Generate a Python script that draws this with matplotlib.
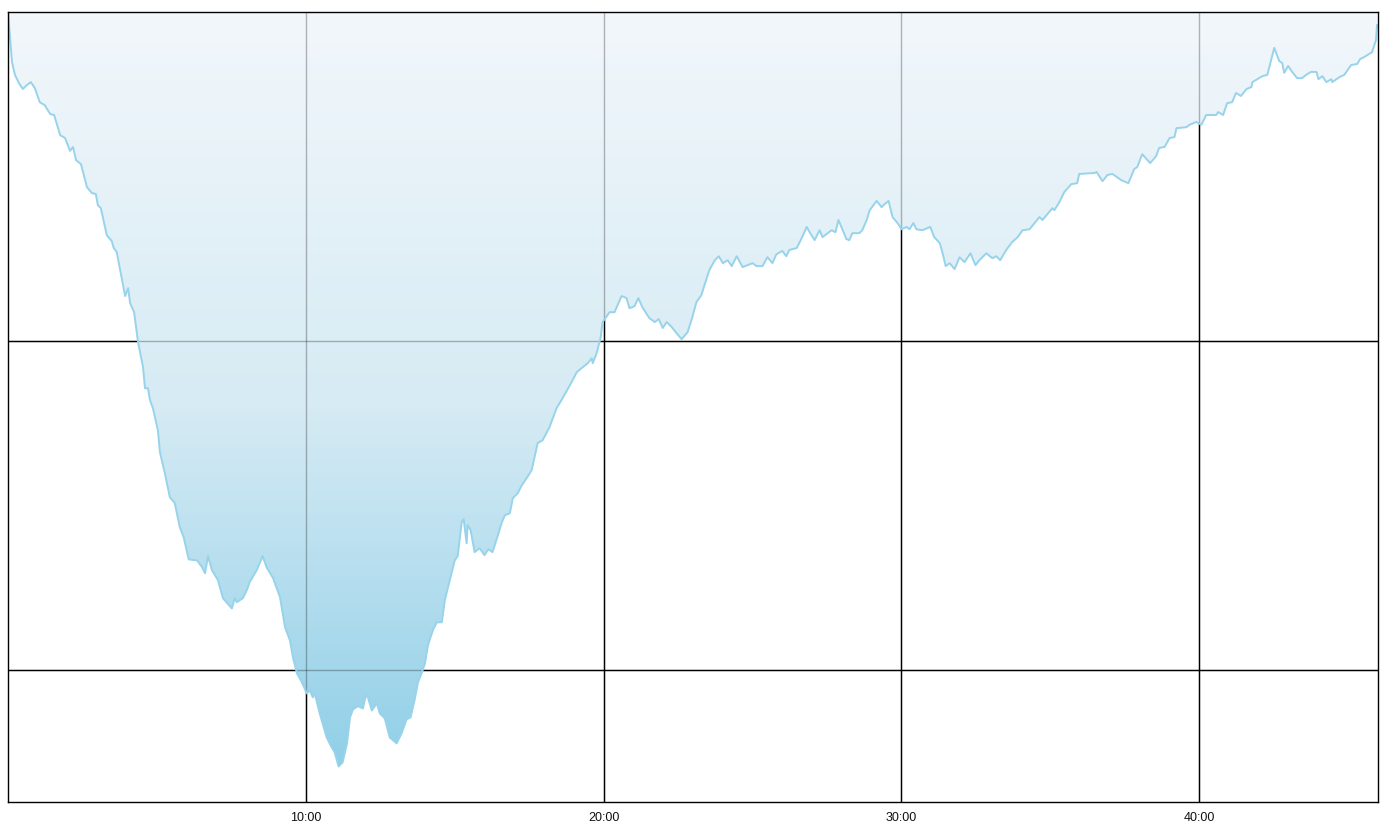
import numpy as np
import matplotlib
matplotlib.use("Agg")
import matplotlib.pyplot as plt
from matplotlib.colors import LinearSegmentedColormap

# Dive profile: time (seconds) and depth (metres)
time_s = [0, 8, 14, 22, 30, 38, 46, 54, 64, 74, 85, 93, 105, 115, 125, 131, 137, 147, 159, 169,
          177, 181, 187, 199, 209, 213, 219, 236, 242, 246, 254, 262, 272, 276, 282, 286, 292, 302,
          306, 316, 326, 336, 346, 354, 364, 381, 391, 397, 403, 411, 423, 433, 451, 457, 461, 473,
          481, 487, 501, 513, 521, 534, 548, 558, 568, 574, 582, 592, 602, 608, 614, 618, 628, 642,
          652, 658, 666, 674, 683, 689, 695, 705, 715, 721, 725, 733, 743, 749, 759, 769, 783, 793,
          803, 811, 819, 826, 834, 840, 846, 856, 864, 874, 880, 890, 900, 906, 914, 918, 924, 926,
          932, 940, 950, 960, 968, 976, 985, 995, 1001, 1011, 1017, 1027, 1035, 1045, 1055, 1067,
          1077, 1091, 1105, 1115, 1132, 1146, 1158, 1168, 1176, 1178, 1186, 1194, 1198, 1212, 1222,
          1236, 1246, 1252, 1262, 1270, 1278, 1292, 1303, 1311, 1319, 1327, 1337, 1347, 1357, 1369,
          1377, 1387, 1397, 1403, 1413, 1424, 1432, 1440, 1450, 1458, 1468, 1480, 1500, 1508, 1520,
          1530, 1540, 1548, 1560, 1568, 1574, 1589, 1599, 1609, 1615, 1625, 1635, 1641, 1659, 1667,
          1673, 1679, 1689, 1695, 1701, 1715, 1721, 1730, 1736, 1750, 1760, 1766, 1774, 1782, 1792,
          1800, 1810, 1816, 1824, 1830, 1842, 1858, 1866, 1877, 1883, 1889, 1897, 1907, 1917, 1927,
          1939, 1949, 1957, 1971, 1983, 1991, 1999, 2011, 2023, 2034, 2044, 2058, 2078, 2084, 2104,
          2108, 2118, 2128, 2142, 2154, 2158, 2189, 2193, 2205, 2215, 2225, 2243, 2257, 2269, 2275,
          2285, 2301, 2313, 2319, 2330, 2340, 2350, 2354, 2374, 2380, 2394, 2404, 2414, 2434, 2438,
          2448, 2456, 2466, 2474, 2484, 2495, 2505, 2507, 2527, 2537, 2551, 2561, 2567, 2571, 2579,
          2587, 2597, 2607, 2615, 2625, 2636, 2640, 2648, 2656, 2666, 2668, 2682, 2692, 2706, 2718,
          2724, 2732, 2748, 2756, 2758]
depth_m = [0, 1.52, 1.91, 2.16, 2.34, 2.22, 2.13, 2.31, 2.74, 2.83, 3.10, 3.13, 3.74, 3.83, 4.22,
           4.10, 4.50, 4.62, 5.32, 5.50, 5.53, 5.87, 5.96, 6.78, 6.96, 7.17, 7.29, 8.63, 8.39, 8.84,
           9.12, 10.03, 10.79, 11.43, 11.43, 11.79, 12.04, 12.71, 13.37, 14.01, 14.74, 14.92, 15.65,
           15.96, 16.63, 16.66, 16.87, 17.05, 16.53, 16.96, 17.26, 17.81, 18.12, 17.81, 17.93, 17.81,
           17.57, 17.32, 16.96, 16.53, 16.87, 17.20, 17.78, 18.69, 19.09, 19.60, 20.09, 20.36, 20.70,
           20.61, 20.82, 20.70, 21.31, 22.04, 22.34, 22.49, 22.92, 22.80, 22.22, 21.43, 21.19, 21.09,
           21.16, 20.76, 20.82, 21.22, 21.00, 21.31, 21.46, 22.04, 22.22, 21.91, 21.49, 21.43, 20.91,
           20.36, 20.06, 19.79, 19.24, 18.78, 18.54, 18.54, 17.87, 17.26, 16.66, 16.53, 15.50, 15.41,
           16.14, 15.59, 15.74, 16.41, 16.29, 16.50, 16.32, 16.41, 15.99, 15.50, 15.29, 15.23, 14.77,
           14.62, 14.38, 14.16, 13.92, 13.10, 13.01, 12.61, 12.04, 11.79, 11.34, 10.94, 10.79, 10.67,
           10.52, 10.67, 10.36, 9.88, 9.42, 9.12, 9.12, 8.63, 8.69, 9.00, 8.94, 8.69, 8.97, 9.30,
           9.42, 9.33, 9.60, 9.42, 9.57, 9.76, 9.94, 9.73, 9.36, 8.81, 8.60, 8.30, 7.84, 7.54, 7.42,
           7.63, 7.54, 7.72, 7.42, 7.75, 7.63, 7.72, 7.72, 7.45, 7.63, 7.36, 7.26, 7.42, 7.23, 7.17,
           6.87, 6.53, 6.69, 6.93, 6.63, 6.84, 6.63, 6.69, 6.32, 6.53, 6.90, 6.93, 6.72, 6.72, 6.63,
           6.32, 6.02, 5.74, 5.93, 5.84, 5.74, 6.23, 6.41, 6.60, 6.53, 6.60, 6.41, 6.60, 6.63, 6.53,
           6.84, 7.02, 7.33, 7.72, 7.63, 7.81, 7.45, 7.60, 7.33, 7.69, 7.54, 7.33, 7.48, 7.42, 7.54,
           7.23, 6.99, 6.84, 6.63, 6.60, 6.23, 6.32, 5.96, 6.02, 5.78, 5.47, 5.23, 5.20, 4.92, 4.89,
           4.86, 5.14, 4.95, 4.92, 5.11, 5.20, 4.77, 4.71, 4.32, 4.59, 4.38, 4.13, 4.10, 3.83, 3.80,
           3.53, 3.50, 3.43, 3.34, 3.43, 3.13, 3.13, 3.04, 3.13, 2.77, 2.74, 2.46, 2.55, 2.34, 2.28,
           2.13, 1.95, 1.91, 1.09, 1.49, 1.55, 1.85, 1.64, 1.82, 2.01, 2.01, 1.91, 1.82, 1.82, 2.04,
           1.95, 2.13, 2.04, 2.13, 1.98, 1.91, 1.61, 1.58, 1.43, 1.37, 1.22, 0.85, 0.40]

x_ticks = [600, 1200, 1800, 2400]
x_tick_labels = ["10:00", "20:00", "30:00", "40:00"]
y_grid = [10, 20]
x_max = 2760
y_max = 24

plt.rcParams['font.family'] = ['Liberation Sans', 'DejaVu Sans']

fig = plt.figure(figsize=(13.87, 8.31), dpi=100)
ax = fig.add_axes([8 / 1387, 29 / 831, 1370 / 1387, 790 / 831])

t = np.array(time_s, dtype=float)
d = np.array(depth_m, dtype=float)

# black grid below everything
for xv in x_ticks:
    ax.axvline(xv, color='black', lw=1.0, zorder=0)
for yv in y_grid:
    ax.axhline(yv, color='black', lw=1.0, zorder=0)

# gradient fill clipped to the profile area
poly = ax.fill_between(t, 0, d, facecolor='none', edgecolor='none', zorder=1)
cmap = LinearSegmentedColormap.from_list('g', ['#f2f7fb', '#d6ebf4', '#8acde7'], N=256)
grad = np.linspace(0, 1, 256).reshape(-1, 1)
im = ax.imshow(grad, cmap=cmap, aspect='auto', extent=(0, x_max, y_max, 0),
               origin='upper', zorder=1, interpolation='bilinear')
path = poly.get_paths()[0]
im.set_clip_path(path, transform=ax.transData)

# faint grid on top (shows through the fill)
for xv in x_ticks:
    ax.axvline(xv, color='black', lw=1.0, alpha=0.28, zorder=2)
for yv in y_grid:
    ax.axhline(yv, color='black', lw=1.0, alpha=0.28, zorder=2)

ax.plot(t, d, color='#97d3eb', lw=1.4, zorder=3, solid_joinstyle='round')

ax.set_xlim(0, x_max)
ax.set_ylim(y_max, 0)
ax.set_xticks(x_ticks)
ax.set_xticklabels(x_tick_labels, fontsize=9, color='#111111')
ax.set_yticks([])
ax.tick_params(axis='x', length=0, pad=7)
for s in ax.spines.values():
    s.set_color('black')
    s.set_linewidth(1.0)
    s.set_zorder(4)

fig.savefig('out.png', dpi=100, facecolor='white')
